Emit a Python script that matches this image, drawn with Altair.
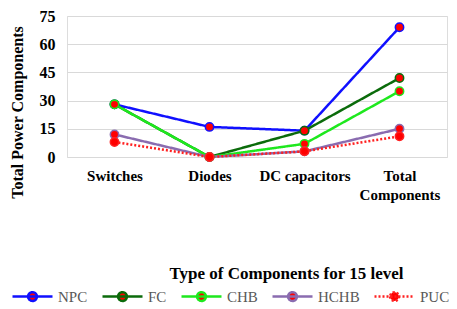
import altair as alt
import pandas as pd

categories = ["Switches", "Diodes", "DC capacitors", "Total Components"]
series = ["NPC", "FC", "CHB", "HCHB", "PUC"]
npc = [28, 16, 14, 69]
fc = [28, 0, 14, 42]
chb = [28, 0, 7, 35]
hchb = [12, 0, 3, 15]
puc = [8, 0, 3, 11]
colors = ["#1010ff", "#0b6b0b", "#1ee81e", "#8a6cb0", "#ff2020"]
dashes = [[1, 0], [1, 0], [1, 0], [1, 0], [2, 2]]

values = {"NPC": npc, "FC": fc, "CHB": chb, "HCHB": hchb, "PUC": puc}
rows = []
for s in series:
    for c, v in zip(categories, values[s]):
        rows.append({"cat": c, "series": s, "value": v})
df = pd.DataFrame(rows)

FONT = "Liberation Serif"

legend = alt.Legend(
    title=None,
    orient="none",
    direction="horizontal",
    legendX=-56,
    legendY=259,
    symbolType="M-1,0H1M-0.22,0A0.22,0.22 0 1,0 0.22,0A0.22,0.22 0 1,0 -0.22,0Z",
    symbolSize=1600,
    symbolStrokeWidth=2.5,
    symbolFillColor="red",
    labelFont=FONT,
    labelFontSize=15,
    labelColor="#595959",
    labelOffset=4,
    columnPadding=9,
)

x = alt.X(
    "cat:N",
    sort=categories,
    scale=alt.Scale(domain=categories, paddingOuter=0.5, paddingInner=0),
    axis=alt.Axis(
        title="Type of Components for 15 level",
        titleFont=FONT,
        titleFontSize=17,
        titleFontWeight="bold",
        titleColor="black",
        titleX=219,
        titleY=121,
        titleBaseline="alphabetic",
        titleAlign="center",
        labelFont=FONT,
        labelFontSize=15,
        labelFontWeight="bold",
        labelColor="black",
        labelAngle=0,
        labelPadding=11,
        labelLineHeight=19,
        labelExpr="datum.label == 'Total Components' ? ['Total', 'Components'] : datum.label",
        ticks=False,
        domain=False,
        grid=False,
    ),
)
y = alt.Y(
    "value:Q",
    scale=alt.Scale(domain=[0, 75]),
    axis=alt.Axis(
        values=[0, 15, 30, 45, 60, 75],
        title="Total Power Components",
        titleFont=FONT,
        titleFontSize=16,
        titleFontWeight="bold",
        titleColor="black",
        titleX=-42,
        titleY=96,
        labelFont=FONT,
        labelFontSize=16,
        labelFontWeight="bold",
        labelColor="black",
        labelPadding=12,
        ticks=False,
        domain=False,
        gridColor="#d9d9d9",
        gridWidth=1,
    ),
)
stroke = alt.Stroke(
    "series:N",
    sort=series,
    scale=alt.Scale(domain=series, range=colors),
    legend=legend,
)
dash = alt.StrokeDash(
    "series:N",
    sort=series,
    scale=alt.Scale(domain=series, range=dashes),
    legend=legend,
)

lines = alt.Chart(df).mark_line(strokeWidth=2.5).encode(x=x, y=y, stroke=stroke, strokeDash=dash)
points = alt.Chart(df).mark_point(filled=False, fill="red", fillOpacity=1, size=70, strokeWidth=1.5, opacity=1).encode(
    x=x, y=y, stroke=stroke
)

chart = (
    alt.layer(lines, points)
    .properties(
        width=380,
        height=141,
        autosize=alt.AutoSizeParams(type="none"),
        padding={"left": 59, "top": 8, "right": 2, "bottom": 150},
    )
    .configure_view(stroke=None)
    .configure(background="white")
)

chart.save("out.html", embed_options={"renderer": "svg", "actions": False})
